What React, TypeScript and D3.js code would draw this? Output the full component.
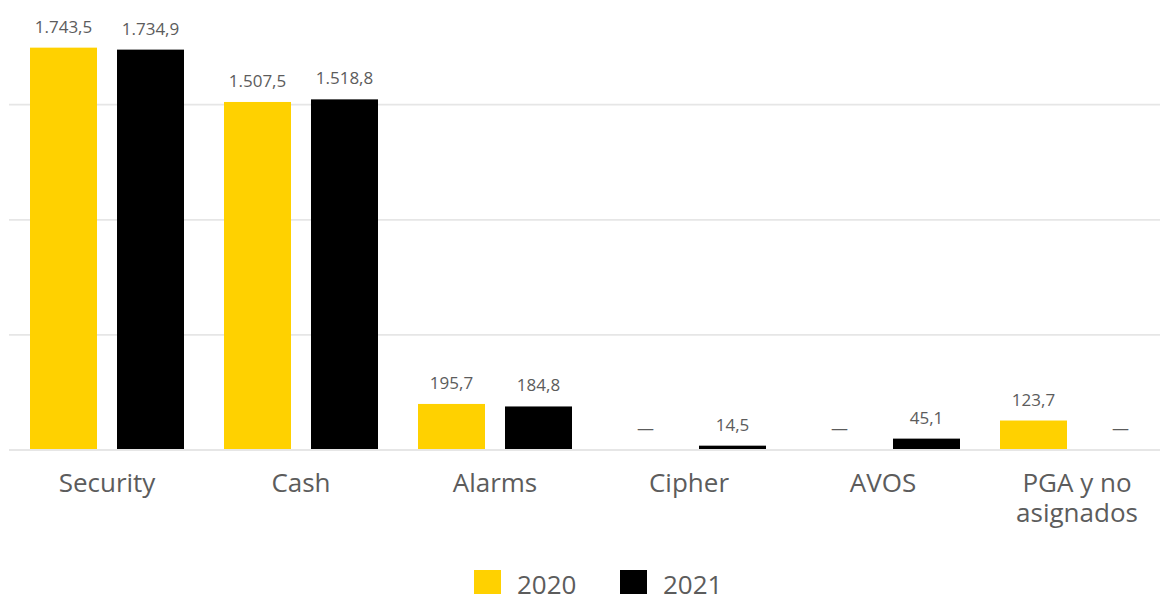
import * as d3 from 'd3'

// Chart data (values in millions, Spanish number format)
const categories = ['Security', 'Cash', 'Alarms', 'Cipher', 'AVOS', 'PGA y no asignados']
const categoryLines = [['Security'], ['Cash'], ['Alarms'], ['Cipher'], ['AVOS'], ['PGA y no', 'asignados']]
const series = ['2020', '2021']
const values2020: (number | null)[] = [1743.5, 1507.5, 195.7, null, null, 123.7]
const values2021: (number | null)[] = [1734.9, 1518.8, 184.8, 14.5, 45.1, null]
const gridTicks = [0, 500, 1000, 1500]

const seriesValues = [values2020, values2021]
const colors = ['#ffd100', '#000000']
const textColor = '#5c5c5c'
const font = '"Open Sans", sans-serif'

const width = 1160
const height = 594

const fmt = (v: number) => {
  const [int, dec] = v.toFixed(1).split('.')
  return int.replace(/\B(?=(\d{3})+(?!\d))/g, '.') + ',' + dec
}

const App = () => {
  const baseY = 449
  const x0 = d3
    .scaleBand()
    .domain(categories)
    .range([10, 1174])
    .paddingInner(40 / 194)
    .paddingOuter(20 / 194)

  const x1 = d3
    .scaleBand()
    .domain(series)
    .range([0, x0.bandwidth()])
    .paddingInner(20 / 87)

  const y = d3
    .scaleLinear()
    .domain([0, 500])
    .range([baseY, baseY - 115.1])

  return (
    <svg
      width={width}
      height={height}
      style={{ position: 'absolute', left: 0, top: 0, display: 'block', background: '#fff' }}
      fontFamily={font}
    >
      {/* Gridlines */}
      {gridTicks.map(t => (
        <line
          key={t}
          x1={9}
          x2={width}
          y1={y(t) + 1}
          y2={y(t) + 1}
          stroke="#e6e6e6"
          strokeWidth={1.8}
        />
      ))}

      {/* Bars and value labels */}
      {categories.map((c, i) => (
        <g key={c} transform={`translate(${x0(c)},0)`}>
          {series.map((s, j) => {
            const v = seriesValues[j][i]
            const bx = x1(s) || 0
            const cx = bx + x1.bandwidth() / 2
            if (v == null) {
              return (
                <text key={s} x={cx} y={y(0) - 15} textAnchor="middle" fontSize={17} fill={textColor}>
                  —
                </text>
              )
            }
            return (
              <g key={s}>
                <rect x={bx} y={y(v)} width={x1.bandwidth()} height={y(0) - y(v)} fill={colors[j]} />
                <text x={cx} y={y(v) - 15} textAnchor="middle" fontSize={17} fill={textColor}>
                  {fmt(v)}
                </text>
              </g>
            )
          })}
        </g>
      ))}

      {/* X axis labels */}
      {categories.map((c, i) =>
        categoryLines[i].map((line, k) => (
          <text
            key={c + k}
            x={(x0(c) || 0) + x0.bandwidth() / 2}
            y={492 + k * 30}
            textAnchor="middle"
            fontSize={26}
            fill={textColor}
          >
            {line}
          </text>
        ))
      )}

      {/* Legend */}
      {series.map((s, j) => {
        const lx = 474 + j * 146
        return (
          <g key={s}>
            <rect x={lx} y={570} width={27} height={27} fill={colors[j]} />
            <text x={lx + 43} y={594} fontSize={26} fill={textColor}>
              {s}
            </text>
          </g>
        )
      })}
    </svg>
  )
}

export default App
